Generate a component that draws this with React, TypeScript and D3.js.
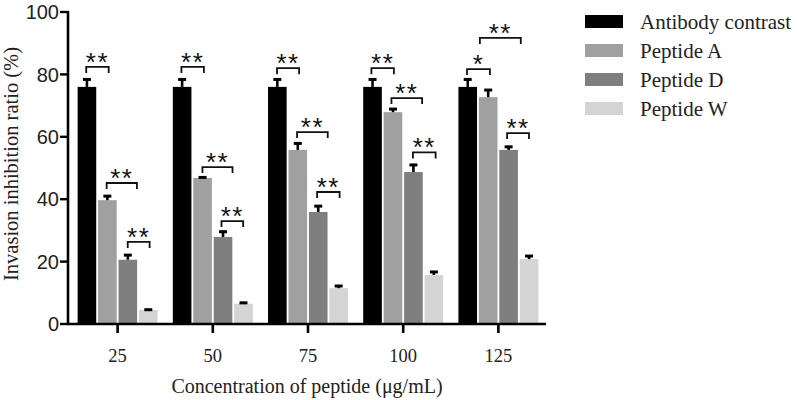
import { useMemo } from "react";
import * as d3 from "d3";

// ── Data ──────────────────────────────────────────────────────
const CONCENTRATIONS = ["25", "50", "75", "100", "125"];
const SERIES = ["Antibody contrast", "Peptide A", "Peptide D", "Peptide W"];
const COLORS = ["#000000", "#a0a0a0", "#7f7f7f", "#d4d4d4"];

const ANTIBODY = [76, 76, 76, 76, 76];
const ANTIBODY_ERR = [2.7, 2.7, 2.7, 2.7, 2.7];
const PEPTIDE_A = [39.7, 46.8, 55.8, 67.9, 72.7];
const PEPTIDE_A_ERR = [1.6, 0.5, 2.4, 1.3, 2.6];
const PEPTIDE_D = [20.6, 27.9, 35.9, 48.7, 55.8];
const PEPTIDE_D_ERR = [1.8, 2.0, 2.2, 2.6, 1.3];
const PEPTIDE_W = [4.5, 6.5, 11.5, 15.7, 20.8];
const PEPTIDE_W_ERR = [0.4, 0.6, 1.0, 1.3, 1.3];

const VALUES = [ANTIBODY, PEPTIDE_A, PEPTIDE_D, PEPTIDE_W];
const ERRORS = [ANTIBODY_ERR, PEPTIDE_A_ERR, PEPTIDE_D_ERR, PEPTIDE_W_ERR];

const Y_TICKS = [0, 20, 40, 60, 80, 100];

// significance brackets: group, span in bar slots, level (%), mark
const BR_GROUP = [0, 0, 0, 1, 1, 1, 2, 2, 2, 3, 3, 3, 4, 4, 4];
const BR_FROM = [0.42, 1.42, 2.45, 0.42, 1.45, 2.38, 0.44, 1.42, 2.4, 0.4, 1.38, 2.43, 0.42, 1.05, 2.38];
const BR_TO = [1.52, 2.9, 3.52, 1.52, 2.92, 3.44, 1.52, 2.92, 3.5, 1.5, 2.88, 3.54, 1.54, 3.05, 3.45];
const BR_LEVEL = [82.4, 45.2, 26.3, 82.4, 50.3, 33, 82, 61.5, 42.3, 82, 72.4, 55, 81.7, 91.7, 61.2];
const BR_MARK = ["**", "**", "**", "**", "**", "**", "**", "**", "**", "**", "**", "**", "*", "**", "**"];

// ── Layout ────────────────────────────────────────────────────
const W = 797;
const H = 400;
const AXIS_X = 68;
const SERIF = "'Liberation Serif', 'Times New Roman', serif";
const SANS = "'Liberation Sans', Arial, sans-serif";

export default function App() {
  const x = useMemo(
    () =>
      d3.scaleBand<string>()
        .domain(CONCENTRATIONS)
        .range([70, 546])
        .paddingInner(0.16)
        .paddingOuter(0.08),
    []
  );
  const inner = useMemo(
    () =>
      d3.scaleBand<string>()
        .domain(SERIES)
        .range([0, x.bandwidth()])
        .paddingInner(0.09),
    [x]
  );
  const y = useMemo(() => d3.scaleLinear().domain([0, 100]).range([324, 12]), []);
  const slot = d3.scaleLinear().domain([0, 1]).range([0, inner.step()]);

  return (
    <svg
      width={W}
      height={H}
      style={{ position: "absolute", left: 0, top: 0, background: "#fff" }}
    >
      {/* bars */}
      {SERIES.map((s, si) =>
        CONCENTRATIONS.map((c, ci) => {
          const bx = (x(c) ?? 0) + (inner(s) ?? 0);
          const v = VALUES[si][ci];
          const e = ERRORS[si][ci];
          const cx = bx + inner.bandwidth() / 2;
          return (
            <g key={s + c}>
              <rect
                x={bx}
                y={y(v)}
                width={inner.bandwidth()}
                height={y(0) - y(v)}
                fill={COLORS[si]}
              />
              <line x1={cx} x2={cx} y1={y(v)} y2={y(v + e)} stroke="#000" strokeWidth={2.6} />
              <line x1={cx - 4} x2={cx + 4} y1={y(v + e) + 1} y2={y(v + e) + 1} stroke="#000" strokeWidth={3} />
            </g>
          );
        })
      )}

      {/* significance brackets */}
      {BR_GROUP.map((g, i) => {
        const gx = x(CONCENTRATIONS[g]) ?? 0;
        const x1 = gx + slot(BR_FROM[i]);
        const x2 = gx + slot(BR_TO[i]);
        const by = y(BR_LEVEL[i]);
        return (
          <g key={"br" + i}>
            <path
              d={`M${x1},${by + 6}V${by}H${x2}V${by + 6}`}
              fill="none"
              stroke="#111"
              strokeWidth={1.8}
            />
            <text
              x={(x1 + x2) / 2}
              y={by + 4}
              textAnchor="middle"
              fontFamily={SANS}
              fontSize={26}
              letterSpacing={1.5}
              fill="#111"
            >
              {BR_MARK[i]}
            </text>
          </g>
        );
      })}

      {/* y axis */}
      <line x1={AXIS_X} x2={AXIS_X} y1={y(100) - 1} y2={y(0) + 1} stroke="#000" strokeWidth={2.6} />
      {Y_TICKS.map((t) => (
        <g key={"yt" + t}>
          <line x1={AXIS_X - 8} x2={AXIS_X} y1={y(t)} y2={y(t)} stroke="#000" strokeWidth={2.4} />
          <text
            x={AXIS_X - 9}
            y={y(t)}
            dy="0.36em"
            textAnchor="end"
            fontFamily={SANS}
            fontSize={20}
            fill="#222"
          >
            {t}
          </text>
        </g>
      ))}

      {/* x axis */}
      <line x1={AXIS_X - 1} x2={546} y1={y(0)} y2={y(0)} stroke="#000" strokeWidth={2.6} />
      {CONCENTRATIONS.map((c) => {
        const cx = (x(c) ?? 0) + x.bandwidth() / 2;
        return (
          <g key={"xt" + c}>
            <line x1={cx} x2={cx} y1={y(0)} y2={y(0) + 9} stroke="#000" strokeWidth={2.6} />
            <text x={cx} y={362} textAnchor="middle" fontFamily={SERIF} fontSize={18.5} fill="#222">
              {c}
            </text>
          </g>
        );
      })}

      {/* axis titles */}
      <text x={307} y={393} textAnchor="middle" fontFamily={SERIF} fontSize={20} fill="#222">
        Concentration of peptide (μg/mL)
      </text>
      <text
        transform={`translate(18,164) rotate(-90)`}
        textAnchor="middle"
        fontFamily={SERIF}
        fontSize={20.5}
        fill="#222"
      >
        Invasion inhibition ratio (%)
      </text>

      {/* legend */}
      {SERIES.map((s, i) => (
        <g key={"lg" + s} transform={`translate(585,${15 + i * 29})`}>
          <rect width={38} height={13} fill={COLORS[i]} />
          <text x={55} y={14} fontFamily={SERIF} fontSize={21} fill="#222">
            {s}
          </text>
        </g>
      ))}
    </svg>
  );
}
